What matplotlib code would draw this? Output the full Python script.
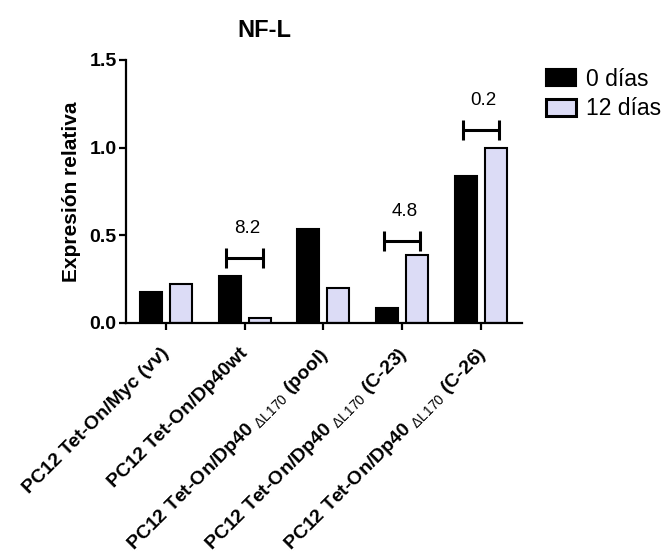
import numpy as np
import matplotlib
matplotlib.use("Agg")
import matplotlib.pyplot as plt
import matplotlib.transforms as mtransforms
from matplotlib.patches import Patch

plt.rcParams['font.family'] = ['Liberation Sans', 'DejaVu Sans']
plt.rcParams['mathtext.fontset'] = 'custom'
plt.rcParams['mathtext.rm'] = 'Liberation Sans'
plt.rcParams['mathtext.it'] = 'Liberation Sans'

# Datos
grupos = [
    'PC12 Tet-On/Myc (vv)',
    'PC12 Tet-On/Dp40wt',
    r'PC12 Tet-On/Dp40 $_{\mathrm{\Delta L170}}$ (pool)',
    r'PC12 Tet-On/Dp40 $_{\mathrm{\Delta L170}}$ (C-23)',
    r'PC12 Tet-On/Dp40 $_{\mathrm{\Delta L170}}$ (C-26)',
]
dias_0 = [0.175, 0.27, 0.535, 0.085, 0.84]
dias_12 = [0.22, 0.03, 0.20, 0.39, 1.0]

# Comparaciones marcadas (grupo, altura, etiqueta)
comp_grupo = [1, 3, 4]
comp_altura = [0.37, 0.47, 1.10]
comp_texto = ['8.2', '4.8', '0.2']

color_12 = '#dcdcf6'

fig = plt.figure(figsize=(6.65, 5.54), dpi=100)
ax = fig.add_axes([0.19, 0.417, 0.595, 0.475])

x = np.arange(len(grupos))
ancho = 0.28
ax.bar(x - 0.19, dias_0, ancho, color='black', edgecolor='black', linewidth=1.5)
ax.bar(x + 0.19, dias_12, ancho, color=color_12, edgecolor='black', linewidth=1.5)

# Corchetes con el valor de cambio
for g, h, t in zip(comp_grupo, comp_altura, comp_texto):
    ax.errorbar(g, h, xerr=0.23, fmt='none', ecolor='black', elinewidth=2.2,
                capsize=7, capthick=2.2)
    ax.annotate(t, (g, h), xytext=(2, 15), textcoords='offset points',
                ha='center', va='bottom', fontsize=13.5)

ax.set_xlim(-0.5, 4.52)
ax.set_ylim(0, 1.5)
ax.set_yticks([0.0, 0.5, 1.0, 1.5])
ax.set_yticklabels(['0.0', '0.5', '1.0', '1.5'], fontweight='bold', fontsize=14)
ax.set_xticks(x)
ax.set_xticklabels(grupos, rotation=45, ha='right', rotation_mode='anchor',
                   fontweight='bold', fontsize=14)
ax.tick_params(axis='both', width=1.6, length=5, direction='out')
ax.tick_params(axis='x', pad=4)
ax.tick_params(axis='y', pad=2)

# desplazar etiquetas un poco hacia abajo
desplazo = mtransforms.ScaledTranslation(-0.05, -0.09, fig.dpi_scale_trans)
for lab in ax.get_xticklabels():
    lab.set_transform(lab.get_transform() + desplazo)

for s in ['top', 'right']:
    ax.spines[s].set_visible(False)
for s in ['left', 'bottom']:
    ax.spines[s].set_linewidth(1.6)

ax.set_ylabel('Expresión relativa', fontweight='bold', fontsize=15, labelpad=6)

fig.text(0.398, 0.945, 'NF-L', ha='center', va='center', fontweight='bold', fontsize=17)

handles = [Patch(facecolor='black', edgecolor='black', linewidth=1.5, label='0 días'),
           Patch(facecolor=color_12, edgecolor='black', linewidth=2.2, label='12 días')]
fig.legend(handles=handles, loc='upper left', bbox_to_anchor=(0.821, 0.878),
           frameon=False, fontsize=16.5, handlelength=1.3, handleheight=0.72,
           handletextpad=0.45, labelspacing=0.3, borderaxespad=0, borderpad=0)

fig.savefig('out.png', dpi=100)
